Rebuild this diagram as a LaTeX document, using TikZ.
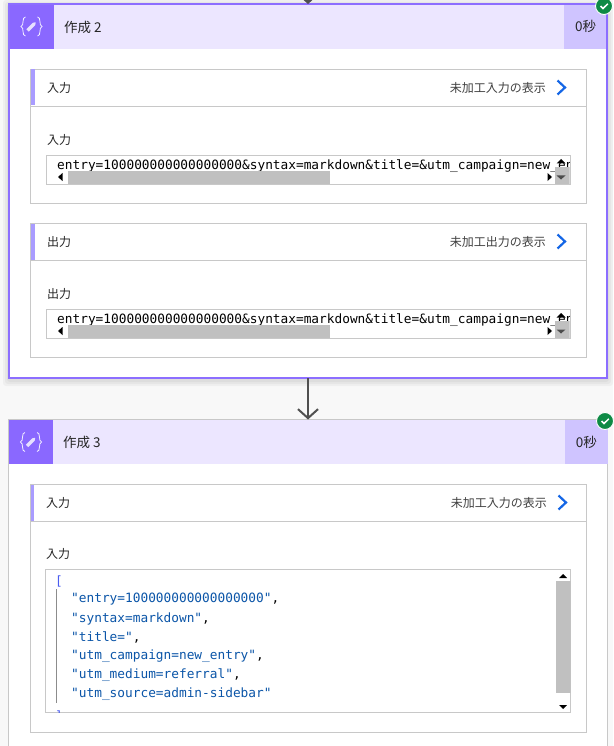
\documentclass[tikz,border=0pt]{standalone}
\usepackage{fontspec}
\usetikzlibrary{arrows.meta}
\setmainfont{Noto Sans CJK JP}
\newfontfamily\codefont{DejaVu Sans Mono}
\definecolor{pagegray}{HTML}{F8F8F8}
\definecolor{runpurple}{HTML}{8C6EFF}
\definecolor{iconpurple}{HTML}{8A68FF}
\definecolor{headpurple}{HTML}{ECE6FF}
\definecolor{timepurple}{HTML}{CFC4FF}
\definecolor{accentpurple}{HTML}{A99CFF}
\definecolor{edgegray}{HTML}{C8C8C8}
\definecolor{thumbgray}{HTML}{C0C0C0}
\definecolor{arrowgray}{HTML}{505050}
\definecolor{linkblue}{HTML}{1466E6}
\definecolor{jsonblue}{HTML}{0B55A8}
\definecolor{bracketblue}{HTML}{4A5CF0}
\definecolor{okgreen}{HTML}{0E8A45}
\tikzset{
    flatbox/.style={draw=none,inner sep=0pt,outer sep=0pt,anchor=north west},
    panelbox/.style={flatbox,draw=edgegray,fill=white,line width=0.9pt},
    titletext/.style={inner sep=0pt,anchor=west,font=\fontsize{13.5}{15}\selectfont,text=black!85},
    labeltext/.style={inner sep=0pt,anchor=west,font=\fontsize{12}{14}\selectfont,text=black!85},
    rawtext/.style={inner sep=0pt,anchor=east,font=\fontsize{12}{14}\selectfont,text=black!75},
    timetext/.style={inner sep=0pt,font=\fontsize{13.5}{15}\selectfont,text=black!85},
    codetext/.style={inner sep=0pt,anchor=west,font=\codefont\fontsize{12.8}{14}\selectfont},
    flowarrow/.style={draw=arrowgray,line width=2pt,-{Straight Barb[length=9pt,width=20pt]}},
    checkbadge/.style={circle,fill=okgreen,draw=white,line width=0.9pt,minimum size=17pt,inner sep=0pt},
    composeicon/.pic={
        \draw[white,line width=0.8pt,opacity=0.9] (-6,-9.5) .. controls (-10,-9.5) and (-7,-1) .. (-10.5,0) .. controls (-7,1) and (-10,9.5) .. (-6,9.5);
        \draw[white,line width=0.8pt,opacity=0.9] (6,-9.5) .. controls (10,-9.5) and (7,-1) .. (10.5,0) .. controls (7,1) and (10,9.5) .. (6,9.5);
        \fill[white,opacity=0.8,rotate=45] (-5.5,-1.7) -- (3.5,-1.7) -- (6,0) -- (3.5,1.7) -- (-5.5,1.7) -- cycle;
    },
    checkmark/.pic={
        \draw[white,line width=1.5pt] (-3.5,0) -- (-1,2.5) -- (3.8,-2.2);
    }
}
\begin{document}
\begin{tikzpicture}[x=1pt,y=-1pt]
    \useasboundingbox (0,0) rectangle (613,746);
    \fill[pagegray] (0,0) rectangle (613,746);
    % first card
    \foreach \s in {6,4,2}{
        \fill[black,opacity=0.035,rounded corners=3pt] ({9-\s},{4-\s+2}) rectangle ({607+\s},{378+\s+2});
    }
    \node[flatbox,fill=white,minimum width=598pt,minimum height=374pt] (cardtwo) at (9,4) {};
    \node[flatbox,fill=headpurple,minimum width=598pt,minimum height=45pt] (headtwo) at (9,4) {};
    \node[flatbox,fill=iconpurple,minimum width=45pt,minimum height=45pt] (icontwo) at (9,4) {};
    \node[flatbox,fill=timepurple,minimum width=43pt,minimum height=45pt] (timetwo) at (564,4) {};
    \draw[runpurple,line width=2.4pt] (cardtwo.north west) rectangle (cardtwo.south east);
    \pic at (icontwo.center) {composeicon};
    \node[titletext] (nametwo) at (64,27) {作成 2};
    \node[timetext] (secstwo) at (timetwo.center) {0秒};
    \node[checkbadge] (oktwo) at (604,6) {};
    \pic at (oktwo.center) {checkmark};
    \foreach \py/\side/\raw in {69/入力/未加工入力の表示,223/出力/未加工出力の表示}{
        \node[panelbox,minimum width=556pt,minimum height=134pt] (panel\py) at (30,\py) {};
        \draw[edgegray,line width=0.9pt] (30,{\py+37}) -- (586,{\py+37});
        \fill[accentpurple] (31,{\py+0.5}) rectangle (35,{\py+36.5});
        \node[labeltext] (side\py) at (47,{\py+19}) {\side};
        \node[rawtext] (raw\py) at (546,{\py+19}) {\raw};
        \draw[linkblue,line width=2.2pt] (557.5,{\py+11.5}) -- (565,{\py+18.5}) -- (557.5,{\py+25.5});
        \node[labeltext] (field\py) at (47,{\py+71}) {\side};
        \node[panelbox,line width=0.8pt,minimum width=524pt,minimum height=29pt] (box\py) at (46,{\py+86}) {};
        \begin{scope}
            \clip (46.5,{\py+86}) rectangle (569.5,{\py+115});
            \node[codetext] (code\py) at (57,{\py+97.5}) {entry=100000000000000000\&syntax=markdown\&title=\&utm\_campaign=new\_entry};
            \fill[thumbgray] (68,{\py+102}) rectangle (330,{\py+114.5});
            \fill[thumbgray] (555,{\py+98}) rectangle (569.5,{\py+114.5});
            \fill[black] (58,{\py+108}) -- (62.5,{\py+104}) -- (62.5,{\py+112}) -- cycle;
            \fill[black] (552,{\py+108}) -- (547.5,{\py+104}) -- (547.5,{\py+112}) -- cycle;
            \fill[black] (561,{\py+90}) -- (565.5,{\py+94.5}) -- (556.5,{\py+94.5}) -- cycle;
            \fill[black!70] (561,{\py+110.5}) -- (565.5,{\py+106.5}) -- (556.5,{\py+106.5}) -- cycle;
        \end{scope}
    }
    % second card
    \node[flatbox,draw=edgegray,fill=white,line width=0.9pt,minimum width=599pt,minimum height=340pt] (cardthree) at (8.7,419.5) {};
    \node[flatbox,fill=headpurple,minimum width=598.5pt,minimum height=44pt] (headthree) at (9,420) {};
    \node[flatbox,fill=iconpurple,minimum width=44pt,minimum height=44pt] (iconthree) at (9,420) {};
    \node[flatbox,fill=timepurple,minimum width=42.5pt,minimum height=44pt] (timethree) at (565,420) {};
    \pic at (iconthree.center) {composeicon};
    \node[titletext] (namethree) at (63,442) {作成 3};
    \node[timetext] (secsthree) at (timethree.center) {0秒};
    \node[checkbadge] (okthree) at (605,421) {};
    \pic at (okthree.center) {checkmark};
    \node[panelbox,minimum width=556.5pt,minimum height=248pt] (panelthree) at (30,484.5) {};
    \draw[edgegray,line width=0.9pt] (30,521.5) -- (586.5,521.5);
    \fill[accentpurple] (30.5,485) rectangle (34,521);
    \node[labeltext] (sidethree) at (46,503) {入力};
    \node[rawtext] (rawthree) at (547,503) {未加工入力の表示};
    \draw[linkblue,line width=2.2pt] (558.5,495.5) -- (566,502.5) -- (558.5,509.5);
    \node[labeltext] (fieldthree) at (46,554) {入力};
    \node[panelbox,line width=0.8pt,minimum width=525.5pt,minimum height=143pt] (boxthree) at (45,569.5) {};
    \begin{scope}
        \clip (45.5,570) rectangle (570.5,712);
        \node[codetext,text=bracketblue] (openbracket) at (55,581) {[};
        \node[codetext,text=bracketblue] (closebracket) at (55,716) {]};
        \draw[black!45,line width=0.8pt] (56.5,589) -- (56.5,703);
        \foreach \jy/\jtext/\jtail in {599.5/"entry=100000000000000000"/{,},618.5/"syntax=markdown"/{,},637.5/"title="/{,},656.5/"utm\_campaign=new\_entry"/{,},675.5/"utm\_medium=referral"/{,},694.5/"utm\_source=admin-sidebar"/{}}{
            \node[codetext] at (71,\jy) {\textcolor{jsonblue}{\jtext}\jtail};
        }
        \fill[thumbgray] (556,581) rectangle (570.5,693);
        \fill[black] (563,574) -- (567,578) -- (559,578) -- cycle;
        \fill[black] (563,709) -- (567,705) -- (559,705) -- cycle;
    \end{scope}
    % connectors
    \coordinate (topin) at (308,-12);
    \draw[flowarrow] (topin) -- (cardtwo.north -| topin);
    \draw[flowarrow] (cardtwo.south -| topin) -- (cardthree.north -| topin);
\end{tikzpicture}
\end{document}
